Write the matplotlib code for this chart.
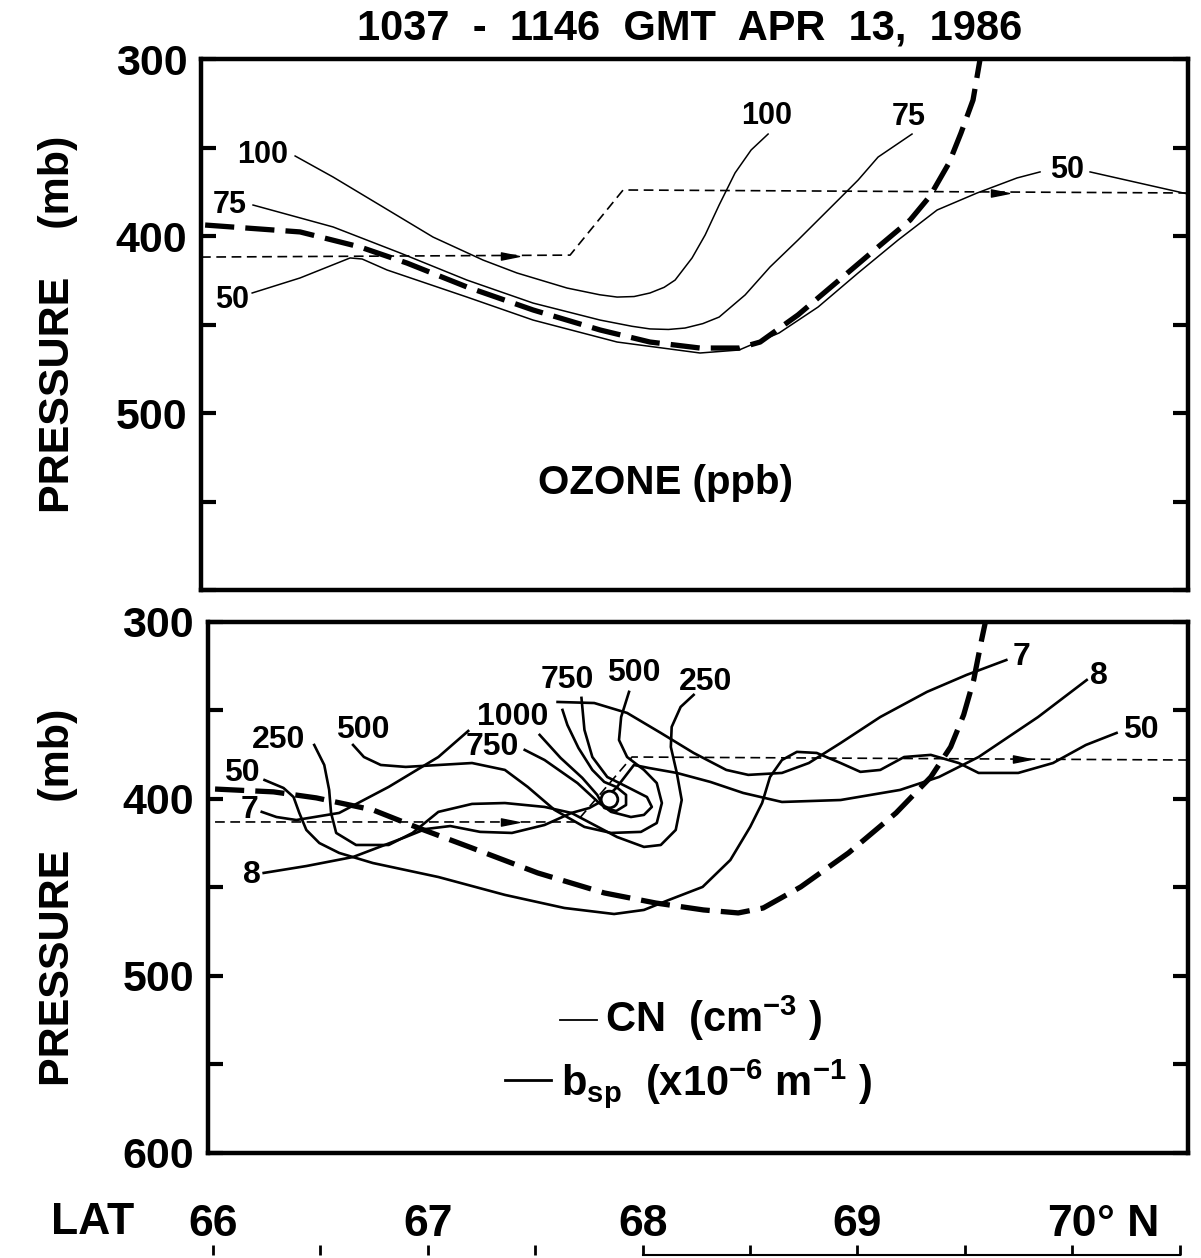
import numpy as np
import matplotlib.pyplot as plt
from matplotlib.path import Path

plt.rcParams['font.family'] = ['Liberation Sans', 'DejaVu Sans']
plt.rcParams['font.weight'] = 'bold'
plt.rcParams['mathtext.fontset'] = 'custom'
plt.rcParams['mathtext.rm'] = 'Liberation Sans:bold'
plt.rcParams['mathtext.bf'] = 'Liberation Sans:bold'
plt.rcParams['mathtext.it'] = 'Liberation Sans:bold'
plt.rcParams['lines.scale_dashes'] = False

XLIM = (65.944, 70.539)

# ---------------- top panel: ozone (ppb) ----------------
o3_100_lat = [66.382, 66.559, 66.791, 67.024, 67.257, 67.415, 67.648, 67.800, 67.881, 67.960,
              68.034, 68.100, 68.151, 68.230, 68.291, 68.356, 68.430, 68.505, 68.584]
o3_100_p = [354.8, 366.7, 383.6, 400.6, 413.6, 420.9, 429.4, 433.2, 434.5, 434.2,
            432.2, 429.0, 424.9, 412.4, 399.4, 382.5, 364.4, 351.4, 342.4]

o3_75_lat = [66.186, 66.559, 66.871, 67.182, 67.490, 67.802, 67.950, 68.034, 68.120, 68.197,
             68.280, 68.356, 68.477, 68.593, 68.723, 68.910, 69.003, 69.096, 69.254]
o3_75_p = [382.5, 394.9, 409.6, 424.9, 437.9, 447.5, 451.0, 452.5, 452.8, 452.0,
           449.5, 445.8, 433.3, 417.5, 402.3, 379.7, 368.4, 355.4, 342.4]

o3_50_lat = [66.182, 66.405, 66.638, 66.694, 66.810, 67.182, 67.490, 67.881, 68.267,
             68.449, 68.635, 68.817, 69.003, 69.189, 69.371, 69.557, 69.743, 69.850]
o3_50_p = [432.2, 423.7, 412.4, 413.0, 419.2, 434.5, 447.5, 459.9, 466.1,
           464.4, 454.8, 440.1, 420.9, 402.3, 385.3, 375.7, 367.2, 363.8]
o3_50b_lat = [70.083, 70.539]
o3_50b_p = [363.8, 376.3]

trop_top_lat = [65.963, 66.405, 66.684, 66.903, 67.182, 67.490, 67.802, 68.034, 68.267,
                68.449, 68.547, 68.723, 68.910, 69.096, 69.245, 69.338, 69.426, 69.482,
                69.538, 69.571]
trop_top_p = [393.8, 397.7, 406.2, 415.3, 428.8, 441.8, 453.1, 459.9, 463.3,
              463.3, 459.9, 444.6, 425.4, 406.2, 391.0, 377.4, 358.8, 341.8,
              323.2, 300.0]

track_top_lat = [65.944, 67.662, 67.909, 70.539]
track_top_p = [411.9, 410.8, 374.0, 375.7]
arrow_top_lat = [67.383, 69.664]
arrow_top_p = [411.3, 375.7]

top_labels = ['100', '75', '50', '100', '75', '50']
top_label_lat = [66.233, 66.079, 66.088, 68.579, 69.240, 69.975]
top_label_p = [354.2, 382.5, 436.2, 332.2, 332.8, 362.7]

# ---------------- bottom panel: CN and bsp ----------------
cn50_lat = [66.209, 66.298, 66.345, 66.372, 66.405, 66.466, 66.559, 66.717, 67.024,
            67.336, 67.615, 67.848, 67.988, 68.104, 68.263, 68.393, 68.486, 68.542,
            68.579, 68.635, 68.705, 68.798, 68.910, 69.003, 69.096, 69.208, 69.333,
            69.464, 69.557, 69.743, 69.906, 70.060, 70.204]
cn50_p = [389.3, 393.8, 398.9, 407.9, 417.5, 424.9, 430.5, 436.2, 444.1,
          454.2, 461.6, 465.0, 462.7, 457.1, 449.7, 434.5, 415.8, 402.3,
          387.6, 378.0, 373.4, 374.0, 379.7, 384.7, 383.6, 376.3, 375.1,
          379.7, 385.3, 385.3, 379.7, 369.5, 362.7]

cn250_lat = [66.442, 66.489, 66.512, 66.521, 66.545, 66.638, 66.791, 66.903, 67.024,
             67.182, 67.336, 67.522, 67.648, 67.755, 67.862, 67.988, 68.067, 68.137,
             68.165, 68.142, 68.114, 68.118, 68.160, 68.221]
cn250_p = [369.5, 380.8, 394.9, 407.9, 419.2, 426.0, 426.0, 419.2, 407.3,
           402.8, 402.3, 404.5, 407.9, 414.7, 421.5, 427.1, 426.0, 417.5,
           400.6, 385.3, 370.6, 359.3, 348.0, 341.2]

cn500_lat = [66.624, 66.675, 66.754, 66.871, 67.182, 67.336, 67.443, 67.569, 67.709,
             67.834, 67.974, 68.048, 68.072, 68.048, 67.988, 67.909, 67.871, 67.881,
             67.918]
cn500_p = [369.5, 376.3, 380.8, 381.9, 379.7, 383.6, 393.2, 406.2, 415.8,
           419.2, 418.6, 413.6, 402.3, 391.0, 383.6, 376.3, 366.7, 353.7,
           339.5]

cn750_lat = [67.429, 67.522, 67.676, 67.778, 67.834, 67.927, 67.988, 68.025, 68.002,
             67.909, 67.816, 67.746, 67.709, 67.695]
cn750_p = [372.3, 378.0, 391.0, 402.3, 407.3, 410.2, 409.0, 404.5, 398.9,
           393.2, 387.6, 376.3, 361.0, 342.9]

cn1000_lat = [67.499, 67.597, 67.699, 67.769, 67.802, 67.858, 67.904, 67.904, 67.858,
              67.802, 67.746, 67.681, 67.629, 67.606]
cn1000_p = [363.8, 376.8, 388.1, 397.7, 405.1, 406.8, 403.4, 397.7, 393.2,
            390.4, 383.6, 371.2, 358.2, 349.7]

bsp7a_lat = [66.196, 66.265, 66.358, 66.559, 66.791, 67.024, 67.164]
bsp7a_p = [407.3, 410.2, 411.9, 407.9, 393.2, 376.3, 361.6]
bsp7b_lat = [67.583, 67.755, 67.909, 68.067, 68.221, 68.374, 68.477, 68.635, 68.761,
             68.910, 69.096, 69.315, 69.501, 69.687]
bsp7b_p = [345.2, 345.8, 351.4, 362.7, 374.0, 383.6, 386.4, 385.3, 379.7,
           368.4, 353.7, 339.5, 329.9, 321.5]

bsp8_lat = [66.205, 66.405, 66.624, 66.871, 66.964, 67.080, 67.220, 67.369, 67.522,
            67.648, 67.732, 67.792, 67.858, 67.941, 68.011, 68.142, 68.300, 68.453,
            68.635, 68.910, 69.189, 69.371, 69.557, 69.836, 70.064]
bsp8_p = [441.8, 437.9, 432.8, 421.5, 417.0, 415.3, 418.6, 419.2, 414.7,
          407.9, 405.1, 401.1, 393.8, 380.8, 382.5, 385.3, 390.4, 396.6,
          401.7, 400.6, 394.9, 387.6, 376.3, 353.7, 332.8]

trop_bot_lat = [65.977, 66.251, 66.452, 66.717, 66.931, 67.182, 67.490, 67.802, 68.044,
                68.267, 68.430, 68.547, 68.723, 68.947, 69.170, 69.333, 69.426, 69.487,
                69.534, 69.571, 69.589]
trop_bot_p = [394.4, 396.0, 399.4, 406.2, 416.4, 427.7, 441.8, 453.1, 458.8,
              462.7, 464.4, 461.6, 449.7, 430.5, 407.9, 387.6, 370.6, 352.5,
              332.8, 310.2, 300.0]

track_bot_lat = [65.977, 67.671, 67.932, 70.539]
track_bot_p = [413.0, 413.0, 376.3, 378.0]
arrow_bot_lat = [67.360, 69.760]
arrow_bot_p = [413.0, 377.5]

peak_lat = [67.825]
peak_p = [400.0]

bot_labels = ['50', '7', '8', '250', '500', '750', '1000', '750', '500', '250', '7', '8', '50']
bot_label_lat = [66.102, 66.140, 66.149, 66.275, 66.670, 67.276, 67.373, 67.629, 67.941,
                 68.276, 69.757, 70.120, 70.316]
bot_label_p = [385.3, 406.2, 442.9, 366.7, 361.0, 370.6, 353.7, 332.8, 328.8,
               333.9, 319.8, 330.5, 361.0]

lat_ticks = [66, 67, 68, 69, 70]
lat_ticklabels = ['66', '67', '68', '69', '70']

arrow = Path([(-1.0, -0.4), (1.0, 0.0), (-1.0, 0.4), (-1.0, -0.4)],
             [Path.MOVETO, Path.LINETO, Path.LINETO, Path.CLOSEPOLY])

HEAVY = dict(color='k', lw=3.8, dashes=(21, 8), dash_capstyle='butt')
TRACK = dict(color='k', lw=1.2, dashes=(7, 4))


def frame(ax, ylabels):
    ax.set_xlim(*XLIM)
    ax.set_ylim(600, 300)
    ax.set_yticks([300, 400, 500, 600])
    ax.set_yticklabels(ylabels, fontsize=31, fontweight='bold')
    ax.set_yticks([350, 450, 550], minor=True)
    ax.set_xticks([])
    ax.tick_params(axis='y', which='both', direction='in', left=True, right=True,
                   length=11, width=3, pad=10)
    for s in ax.spines.values():
        s.set_linewidth(3.2)


fig = plt.figure(figsize=(12.01, 12.58), dpi=100)

ax1 = fig.add_axes([0.1674, 0.5310, 0.8218, 0.4221])
frame(ax1, ['300', '400', '500', ''])
ax1.plot(o3_100_lat, o3_100_p, color='k', lw=1.1)
ax1.plot(o3_75_lat, o3_75_p, color='k', lw=1.1)
ax1.plot(o3_50_lat, o3_50_p, color='k', lw=1.1)
ax1.plot(o3_50b_lat, o3_50b_p, color='k', lw=1.1)
ax1.plot(trop_top_lat, trop_top_p, **HEAVY)
ax1.plot(track_top_lat, track_top_p, **TRACK)
ax1.plot(arrow_top_lat, arrow_top_p, ls='none', marker=arrow, ms=13, color='k')
for t, x, y in zip(top_labels, top_label_lat, top_label_p):
    ax1.text(x, y, t, fontsize=22, ha='center', va='center')
ax1.text(68.104, 539.5, 'OZONE (ppb)', fontsize=29, ha='center', va='center')

ax2 = fig.add_axes([0.1732, 0.0835, 0.8160, 0.4221])
frame(ax2, ['300', '400', '500', '600'])
for xs, ys in [(cn50_lat, cn50_p), (cn250_lat, cn250_p), (cn500_lat, cn500_p),
               (cn750_lat, cn750_p), (cn1000_lat, cn1000_p), (bsp7a_lat, bsp7a_p),
               (bsp7b_lat, bsp7b_p), (bsp8_lat, bsp8_p)]:
    ax2.plot(xs, ys, color='k', lw=1.9)
ax2.plot(trop_bot_lat, trop_bot_p, **HEAVY)
ax2.plot(track_bot_lat, track_bot_p, **TRACK)
ax2.plot(arrow_bot_lat, arrow_bot_p, ls='none', marker=arrow, ms=13, color='k')
ax2.plot(peak_lat, peak_p, ls='none', marker='o', ms=12, mfc='white', mec='k', mew=2)
for t, x, y in zip(bot_labels, bot_label_lat, bot_label_p):
    ax2.text(x, y, t, fontsize=23, ha='center', va='center')

# legend drawn by hand, as in the original
ax2.plot([0.359, 0.397], [0.250, 0.250], transform=ax2.transAxes, color='k', lw=1.3)
ax2.text(0.405, 0.254, r'CN  (cm$^{-3}$ )', transform=ax2.transAxes, fontsize=30,
         ha='left', va='center')
ax2.plot([0.303, 0.350], [0.137, 0.137], transform=ax2.transAxes, color='k', lw=2)
ax2.text(0.360, 0.130, r'b$_{\mathrm{sp}}$  (x10$^{-6}$ m$^{-1}$ )', transform=ax2.transAxes,
         fontsize=30, ha='left', va='center')

# latitude scale along the bottom
ax3 = fig.add_axes([0.1674, 0.0024, 0.8218, 0.001])
ax3.set_xlim(*XLIM)
ax3.set_ylim(0, 1)
ax3.set_yticks([])
for side in ['left', 'right', 'top']:
    ax3.spines[side].set_visible(False)
ax3.spines['bottom'].set_bounds(68, 70.5)
ax3.spines['bottom'].set_linewidth(1.5)
ax3.set_xticks(lat_ticks)
ax3.set_xticklabels(lat_ticklabels, fontsize=32)
ax3.set_xticks(np.arange(66.5, 70.6, 1.0), minor=True)
ax3.tick_params(axis='x', which='both', direction='in', bottom=True, top=False,
                labelbottom=False, labeltop=True, length=7, width=2, pad=6)
ax3.annotate('° N', xy=(70, 1.0), xycoords=ax3.get_xaxis_transform(),
             xytext=(18, 6), textcoords='offset points', fontsize=32,
             ha='left', va='bottom')
fig.text(0.077, 0.0280, 'LAT', fontsize=32, ha='center', va='center')

fig.text(0.5745, 0.9777, '1037  -  1146  GMT  APR  13,  1986', fontsize=30,
         ha='center', va='center')
fig.text(0.048, 0.742, 'PRESSURE    (mb)', fontsize=31, rotation=90, ha='center', va='center')
fig.text(0.048, 0.287, 'PRESSURE    (mb)', fontsize=31, rotation=90, ha='center', va='center')

fig.savefig('out.png', dpi=100)
